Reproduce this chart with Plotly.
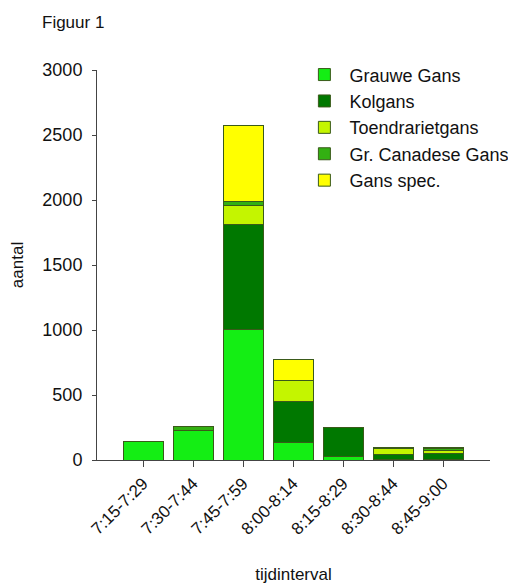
import plotly.graph_objects as go

categories = ["7:15-7:29", "7:30-7:44", "7:45-7:59", "8:00-8:14", "8:15-8:29", "8:30-8:44", "8:45-9:00"]
grauwe_gans = [145, 230, 1005, 135, 25, 5, 5]
kolgans = [0, 0, 810, 315, 225, 40, 45]
toendrarietgans = [0, 0, 145, 165, 0, 40, 20]
gr_canadese_gans = [0, 30, 25, 0, 0, 5, 15]
gans_spec = [0, 0, 590, 160, 0, 5, 15]

series = [
    ("Grauwe Gans", grauwe_gans, "#14ee14"),
    ("Kolgans", kolgans, "#007800"),
    ("Toendrarietgans", toendrarietgans, "#c4f500"),
    ("Gr. Canadese Gans", gr_canadese_gans, "#33b012"),
    ("Gans spec.", gans_spec, "#ffff00"),
]

fig = go.Figure()
for i, (name, vals, col) in enumerate(series):
    fig.add_trace(go.Bar(
        x=categories, y=vals, name=name, legendgroup=f"g{i}",
        marker=dict(color=col, line=dict(color="#3a5a1a", width=1)),
        width=0.8,
    ))

fig.update_layout(
    barmode="stack",
    width=508, height=576,
    margin=dict(l=89, r=26, t=62, b=124, autoexpand=False),
    paper_bgcolor="white", plot_bgcolor="white",
    font=dict(family="Liberation Sans, Arial, sans-serif", color="#111111", size=17),
    showlegend=True,
    legend=dict(x=0.515, y=1.035, xanchor="left", yanchor="top",
                font=dict(size=18), bgcolor="rgba(0,0,0,0)",
                traceorder="normal", itemwidth=40, tracegroupgap=3),
)
fig.add_annotation(text="Figuur 1", xref="paper", yref="paper",
                   x=-0.145, y=1.123, xanchor="left", yanchor="middle",
                   showarrow=False, font=dict(size=17))

fig.update_xaxes(
    type="category", range=[-0.92, 6.94],
    showline=True, linecolor="#444444", linewidth=1,
    ticks="outside", ticklen=6, tickcolor="#444444",
    tickangle=-45, tickfont=dict(size=17),
    title=dict(text="tijdinterval", font=dict(size=17), standoff=32),
    showgrid=False, zeroline=False,
)
fig.update_yaxes(
    range=[0, 3000], tickvals=[0, 500, 1000, 1500, 2000, 2500, 3000],
    showline=True, linecolor="#444444", linewidth=1,
    ticks="outside", ticklen=4, tickcolor="#444444",
    tickfont=dict(size=18), ticklabelstandoff=6,
    title=dict(text="aantal", font=dict(size=17), standoff=22),
    showgrid=False, zeroline=False,
)

fig.write_html("out.html")
